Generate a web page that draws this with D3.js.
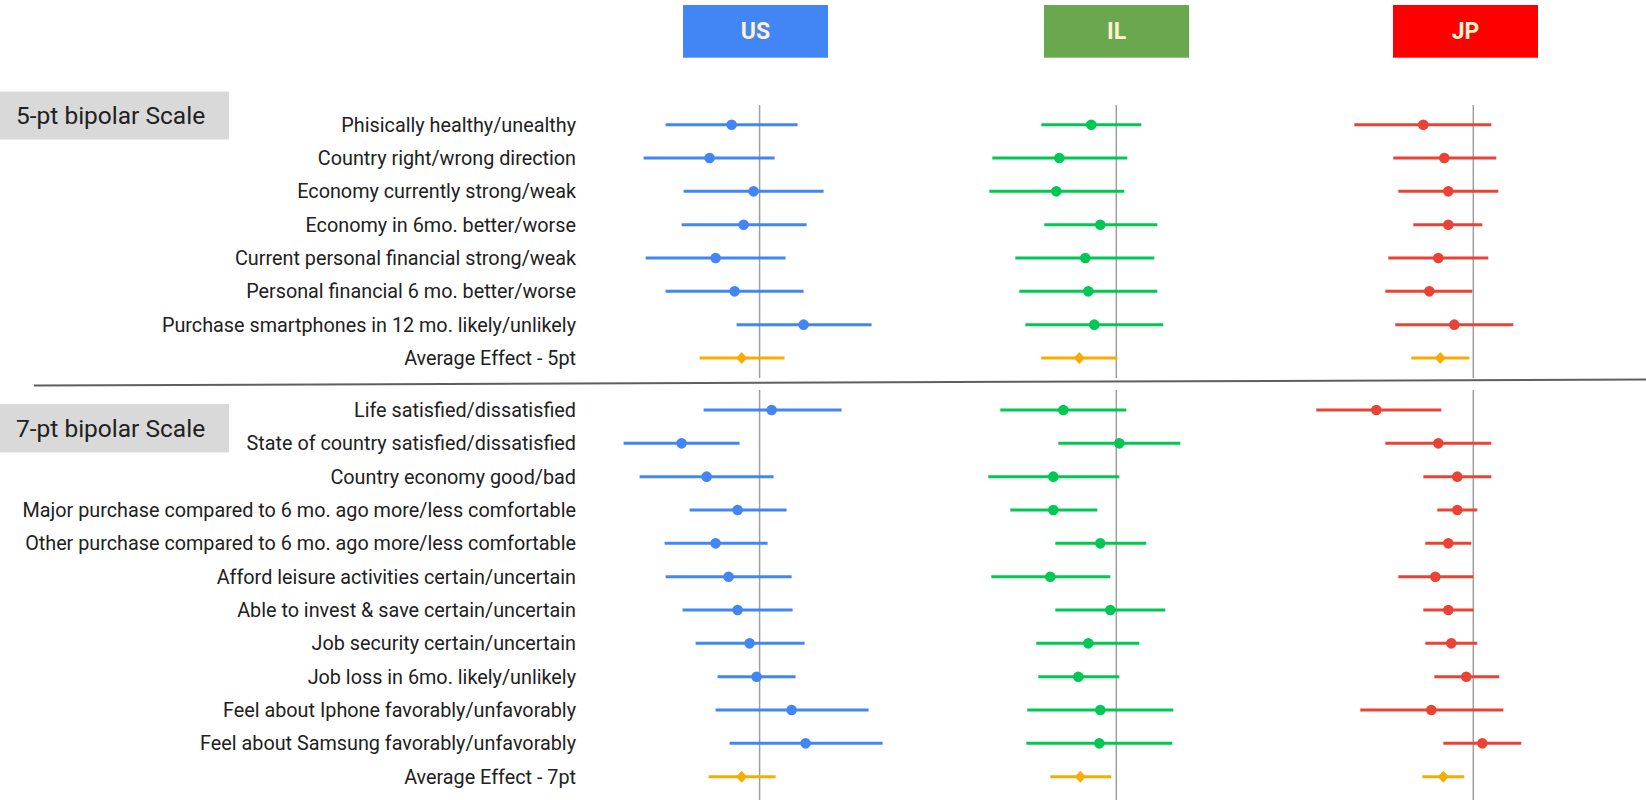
<!DOCTYPE html>
<html>
<head>
<meta charset="utf-8">
<script src="https://cdn.jsdelivr.net/npm/d3@7"></script>
<style>
  html, body { margin: 0; padding: 0; background: #fff; }
  svg { display: block; font-family: Roboto, "Noto Sans", sans-serif; }
</style>
</head>
<body>
<svg id="chart" width="1646" height="800"></svg>
<script>
// Survey items, 5-point bipolar block
const items5 = [
  "Phisically healthy/unealthy",
  "Country right/wrong direction",
  "Economy currently strong/weak",
  "Economy in 6mo. better/worse",
  "Current personal financial strong/weak",
  "Personal financial 6 mo. better/worse",
  "Purchase smartphones in 12 mo. likely/unlikely",
  "Average Effect - 5pt"
];
// Survey items, 7-point bipolar block
const items7 = [
  "Life satisfied/dissatisfied",
  "State of country satisfied/dissatisfied",
  "Country economy good/bad",
  "Major purchase compared to 6 mo. ago more/less comfortable",
  "Other purchase compared to 6 mo. ago more/less comfortable",
  "Afford leisure activities certain/uncertain",
  "Able to invest & save certain/uncertain",
  "Job security certain/uncertain",
  "Job loss in 6mo. likely/unlikely",
  "Feel about Iphone favorably/unfavorably",
  "Feel about Samsung favorably/unfavorably",
  "Average Effect - 7pt"
];

const countries = ["US", "IL", "JP"];
const blockTitles = ["5-pt bipolar Scale", "7-pt bipolar Scale"];

// Effect estimates with interval bounds (last entry of each block is the average effect)
const us5Low  = [-0.94, -1.16, -0.76, -0.78, -1.14, -0.94, -0.23, -0.60];
const us5Mid  = [-0.28, -0.50, -0.06, -0.16, -0.44, -0.25,  0.44, -0.18];
const us5High = [ 0.38,  0.15,  0.64,  0.47,  0.26,  0.44,  1.12,  0.25];

const il5Low  = [-0.75, -1.24, -1.27, -0.72, -1.01, -0.97, -0.91, -0.75];
const il5Mid  = [-0.25, -0.57, -0.60, -0.16, -0.31, -0.28, -0.22, -0.37];
const il5High = [ 0.25,  0.11,  0.08,  0.41,  0.38,  0.41,  0.47,  0.01];

const jp5Low  = [-1.19, -0.80, -0.75, -0.60, -0.85, -0.88, -0.78, -0.62];
const jp5Mid  = [-0.50, -0.29, -0.25, -0.25, -0.35, -0.44, -0.19, -0.33];
const jp5High = [ 0.18,  0.23,  0.25,  0.09,  0.15, -0.01,  0.40, -0.04];

const us7Low  = [-0.56, -1.36, -1.20, -0.70, -0.95, -0.94, -0.77, -0.64, -0.42, -0.44, -0.30, -0.51];
const us7Mid  = [ 0.12, -0.78, -0.53, -0.22, -0.44, -0.31, -0.22, -0.10, -0.03,  0.32,  0.46, -0.18];
const us7High = [ 0.82, -0.20,  0.14,  0.27,  0.08,  0.32,  0.33,  0.45,  0.36,  1.09,  1.23,  0.16];

const il7Low  = [-1.16, -0.58, -1.28, -1.06, -0.61, -1.25, -0.61, -0.80, -0.78, -0.89, -0.90, -0.66];
const il7Mid  = [-0.53,  0.03, -0.63, -0.63, -0.16, -0.66, -0.06, -0.28, -0.38, -0.16, -0.17, -0.36];
const il7High = [ 0.10,  0.64,  0.03, -0.19,  0.30, -0.06,  0.49,  0.23,  0.03,  0.57,  0.56, -0.05];

const jp7Low  = [-1.57, -0.88, -0.50, -0.36, -0.48, -0.75, -0.50, -0.48, -0.39, -1.13, -0.30, -0.51];
const jp7Mid  = [-0.97, -0.35, -0.16, -0.16, -0.25, -0.38, -0.25, -0.22, -0.07, -0.42,  0.09, -0.30];
const jp7High = [-0.32,  0.18,  0.18,  0.04, -0.02,  0.00,  0.00,  0.04,  0.26,  0.30,  0.48, -0.09];

// ---- layout & styling ----
const colors = { US: "#4285F4", IL: "#00C853", JP: "#EA4335" };
const headerFill = { US: "#4285F4", IL: "#6AA84F", JP: "#FF0000" };
const avgColor = "#F9AB00";
const zeroX = { US: 759.6, IL: 1116.3, JP: 1473.3 };
const headerX = { US: 683, IL: 1044, JP: 1393 };
const unitPx = 100;

const svg = d3.select("#chart");

const xScales = {};
countries.forEach(c => {
  xScales[c] = d3.scaleLinear().domain([0, 1]).range([zeroX[c], zeroX[c] + unitPx]);
});

const blocks = [
  { items: items5, top: 124.7, bottom: 358, lineTop: 105, lineBottom: 378, boxTop: 91.5, boxBottom: 139.5,
    series: { US: [us5Low, us5Mid, us5High], IL: [il5Low, il5Mid, il5High], JP: [jp5Low, jp5Mid, jp5High] } },
  { items: items7, top: 410, bottom: 776.7, lineTop: 390, lineBottom: 800, boxTop: 404, boxBottom: 452.5,
    series: { US: [us7Low, us7Mid, us7High], IL: [il7Low, il7Mid, il7High], JP: [jp7Low, jp7Mid, jp7High] } }
];

// country header boxes
countries.forEach(c => {
  const g = svg.append("g");
  g.append("rect")
    .attr("x", headerX[c]).attr("y", 5)
    .attr("width", 145).attr("height", 52.7)
    .attr("fill", headerFill[c]);
  g.append("text")
    .attr("x", headerX[c] + 72.5).attr("y", 39)
    .attr("text-anchor", "middle")
    .attr("font-size", 23).attr("font-weight", 700)
    .attr("fill", "#FFF2CC")
    .text(c);
});

blocks.forEach((b, bi) => {
  const y = d3.scalePoint()
    .domain(b.items)
    .range([b.top, b.bottom]);

  // block title box
  svg.append("rect")
    .attr("x", 0).attr("y", b.boxTop)
    .attr("width", 229).attr("height", b.boxBottom - b.boxTop)
    .attr("fill", "#D9D9D9");
  svg.append("text")
    .attr("x", 16).attr("y", (b.boxTop + b.boxBottom) / 2)
    .attr("dy", "0.36em")
    .attr("font-size", 24.5)
    .attr("fill", "#212121")
    .text(blockTitles[bi]);

  // row labels
  svg.append("g")
    .selectAll("text")
    .data(b.items)
    .join("text")
    .attr("x", 576)
    .attr("y", d => y(d))
    .attr("dy", "0.35em")
    .attr("text-anchor", "end")
    .attr("font-size", 19.8)
    .attr("fill", "#212121")
    .text(d => d);

  countries.forEach(c => {
    const x = xScales[c];
    const [lo, mid, hi] = b.series[c];
    const rows = b.items.map((name, i) => ({
      name, lo: lo[i], mid: mid[i], hi: hi[i], avg: i === b.items.length - 1
    }));

    // zero reference line
    svg.append("line")
      .attr("x1", x(0)).attr("x2", x(0))
      .attr("y1", b.lineTop).attr("y2", b.lineBottom)
      .attr("stroke", "#9E9E9E").attr("stroke-width", 1.5);

    const g = svg.append("g");
    g.selectAll("line.ci")
      .data(rows)
      .join("line")
      .attr("class", "ci")
      .attr("x1", d => x(d.lo)).attr("x2", d => x(d.hi))
      .attr("y1", d => y(d.name)).attr("y2", d => y(d.name))
      .attr("stroke", d => d.avg ? avgColor : colors[c])
      .attr("stroke-width", 3);

    g.selectAll("circle")
      .data(rows.filter(d => !d.avg))
      .join("circle")
      .attr("cx", d => x(d.mid)).attr("cy", d => y(d.name))
      .attr("r", 5.3)
      .attr("fill", colors[c]);

    g.selectAll("path")
      .data(rows.filter(d => d.avg))
      .join("path")
      .attr("d", d => {
        const cx = x(d.mid), cy = y(d.name);
        return `M${cx},${cy - 6}L${cx + 5.5},${cy}L${cx},${cy + 6}L${cx - 5.5},${cy}Z`;
      })
      .attr("fill", avgColor);
  });
});

// divider between the two blocks
svg.append("line")
  .attr("x1", 34).attr("y1", 385.5)
  .attr("x2", 1646).attr("y2", 379.5)
  .attr("stroke", "#5F5F5F").attr("stroke-width", 2);
</script>
</body>
</html>
